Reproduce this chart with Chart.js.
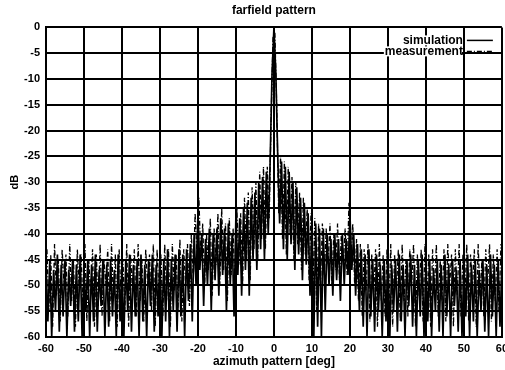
<!DOCTYPE html>
<html>
<head>
<meta charset="utf-8">
<script src="https://cdn.jsdelivr.net/npm/chart.js@4"></script>
<style>
  html, body { margin: 0; padding: 0; background: #fff; overflow: hidden; }
  #wrap { width: 513px; height: 371px; }
</style>
</head>
<body>
<div id="wrap"><canvas id="farfieldChart"></canvas></div>
<script>
// azimuth grid: simulation sampled every 0.5 deg from -60, measurement offset by 0.25 deg
const simStart = -60;
const measStart = -59.75;
const angleStep = 0.5;

const xTicks = [-60, -50, -40, -30, -20, -10, 0, 10, 20, 30, 40, 50, 60];
const yTicks = [0, -5, -10, -15, -20, -25, -30, -35, -40, -45, -50, -55, -60];

// simulation [dB], -60 .. 60
const simulationDb = [
    -46, -57, -45, -60, -47, -55, -44, -59, -46, -56, -45, -60, -47, -54, -45, -59, -46, -57, -44, -60,
    -47, -55, -45, -60, -46, -57, -44, -59, -47, -54, -45, -60, -46, -58, -45, -56, -47, -60, -44, -57,
    -46, -60, -45, -55, -44, -59, -46, -56, -45, -60, -44, -57, -46, -60, -45, -54, -44, -59, -46, -56,
    -44, -60, -45, -57, -43, -60, -45, -55, -44, -59, -43, -56, -44, -60, -43, -53, -42, -57, -40, -50,
    -36, -47, -40, -54, -41, -50, -39, -55, -40, -49, -39, -52, -37, -48, -39, -55, -38, -50, -40, -56,
    -36, -48, -37, -52, -35, -47, -34, -52, -33, -45, -32, -47, -30, -43, -29, -45, -28, -40, -26, -9,
    0, -9, -25, -38, -26, -43, -27, -45, -28, -42, -30, -47, -31, -44, -33, -49, -34, -46, -36, -52,
    -37, -60, -38, -58, -39, -60, -39, -55, -40, -50, -41, -52, -40, -49, -41, -53, -40, -50, -41, -48,
    -36, -47, -40, -52, -42, -55, -43, -58, -44, -60, -43, -56, -45, -59, -44, -55, -46, -60, -45, -57,
    -44, -60, -46, -55, -45, -59, -44, -57, -46, -60, -45, -54, -44, -58, -46, -60, -45, -56, -44, -60,
    -46, -57, -45, -60, -47, -55, -45, -59, -46, -60, -44, -56, -46, -60, -45, -54, -47, -59, -45, -60,
    -46, -56, -44, -60, -46, -57, -45, -60, -47, -55, -45, -59, -46, -60, -44, -56, -46, -60, -45, -58,
    -46
];

// measurement [dB], -59.75 .. 59.75
const measurementDb = [
    -43, -55, -44, -58, -42, -52, -45, -57, -43, -50, -44, -56, -42, -53, -45, -58, -43, -51, -44, -55,
    -42, -57, -45, -52, -43, -58, -44, -54, -42, -56, -45, -50, -43, -57, -42, -53, -44, -58, -43, -52,
    -45, -55, -42, -58, -44, -51, -43, -56, -42, -53, -45, -57, -43, -50, -44, -55, -42, -58, -43, -52,
    -44, -56, -42, -53, -43, -58, -42, -51, -44, -55, -41, -57, -43, -50, -42, -54, -40, -49, -36, -44,
    -33, -45, -38, -50, -40, -47, -37, -52, -39, -46, -36, -50, -35, -47, -38, -53, -37, -48, -39, -52,
    -35, -46, -36, -50, -33, -45, -32, -49, -31, -43, -30, -45, -28, -41, -27, -43, -27, -37, -18, -2,
    -1, -16, -36, -25, -41, -26, -44, -27, -40, -29, -45, -30, -42, -32, -47, -33, -44, -35, -49, -36,
    -52, -37, -55, -38, -50, -38, -48, -39, -46, -38, -50, -40, -47, -38, -49, -40, -46, -39, -48, -34,
    -45, -38, -50, -41, -53, -42, -56, -43, -51, -42, -57, -44, -52, -43, -58, -42, -53, -44, -56, -43,
    -55, -42, -58, -44, -51, -43, -57, -42, -53, -45, -56, -43, -50, -42, -58, -44, -52, -43, -57, -42,
    -54, -44, -58, -43, -51, -42, -56, -45, -53, -43, -57, -42, -50, -44, -58, -43, -52, -42, -56, -44,
    -53, -42, -57, -44, -51, -43, -58, -42, -52, -45, -56, -43, -50, -42, -57, -44, -53, -43, -55, -42
];

const toPoints = (start, values) => values.map((v, i) => ({ x: start + i * angleStep, y: v }));

const FONT = { family: 'Liberation Sans, Arial, sans-serif', size: 11, weight: 'bold' };
const TITLE_FONT = { family: 'Liberation Sans, Arial, sans-serif', size: 12, weight: 'bold' };

// gnuplot-like key inside the plot: text on the left, line sample on the right
const insideKey = {
    id: 'insideKey',
    afterDatasetsDraw(chart) {
        const { ctx, chartArea } = chart;
        const right = chartArea.right - 9;
        const sampleW = 26;
        ctx.save();
        ctx.font = 'bold 12px Liberation Sans, Arial, sans-serif';
        ctx.textAlign = 'right';
        ctx.textBaseline = 'middle';
        chart.data.datasets.forEach((ds, i) => {
            const y = chartArea.top + 13 + i * 11;
            ctx.fillStyle = '#fff';
            const w = ctx.measureText(ds.label).width;
            ctx.fillRect(right - sampleW - 5 - w, y - 5, w, 10);
            ctx.fillStyle = '#000';
            ctx.fillText(ds.label, right - sampleW - 4, y);
            ctx.strokeStyle = '#000';
            ctx.lineWidth = 1.5;
            ctx.setLineDash(ds.borderDash || []);
            ctx.beginPath();
            ctx.moveTo(right - sampleW, y);
            ctx.lineTo(right, y);
            ctx.stroke();
        });
        ctx.restore();
    }
};

new Chart(document.getElementById('farfieldChart'), {
    type: 'line',
    data: {
        datasets: [
            {
                label: 'simulation',
                data: toPoints(simStart, simulationDb),
                borderColor: '#000',
                borderWidth: 1.7,
                pointRadius: 0,
                tension: 0
            },
            {
                label: 'measurement',
                data: toPoints(measStart, measurementDb),
                borderColor: '#000',
                borderWidth: 1.3,
                borderDash: [5, 2, 1, 2],
                pointRadius: 0,
                tension: 0
            }
        ]
    },
    options: {
        responsive: true,
        maintainAspectRatio: false,
        animation: false,
        plugins: {
            legend: { display: false },
            tooltip: { enabled: false },
            title: {
                display: true,
                fullSize: false,
                text: 'farfield pattern',
                color: '#000',
                font: TITLE_FONT,
                padding: { top: 3, bottom: 10 }
            }
        },
        scales: {
            x: {
                type: 'linear',
                min: -60,
                max: 60,
                afterBuildTicks: s => { s.ticks = xTicks.map(v => ({ value: v })); },
                afterFit: s => { s.height = 34; },
                ticks: { color: '#000', font: FONT, padding: 5, maxRotation: 0 },
                grid: { color: '#000', lineWidth: 2, drawTicks: false },
                border: { color: '#000', width: 2 },
                title: {
                    display: true,
                    text: 'azimuth pattern [deg]',
                    color: '#000',
                    font: TITLE_FONT,
                    padding: { top: 0, bottom: 2 }
                }
            },
            y: {
                type: 'linear',
                min: -60,
                max: 0,
                afterBuildTicks: s => { s.ticks = yTicks.map(v => ({ value: v })); },
                afterFit: s => { s.width = 46; },
                ticks: { color: '#000', font: FONT, padding: 6 },
                grid: { color: '#000', lineWidth: 2, drawTicks: false },
                border: { color: '#000', width: 2 },
                title: {
                    display: true,
                    text: 'dB',
                    color: '#000',
                    font: FONT,
                    padding: { top: 8, bottom: 0 }
                }
            }
        }
    },
    plugins: [insideKey]
});
</script>
</body>
</html>
